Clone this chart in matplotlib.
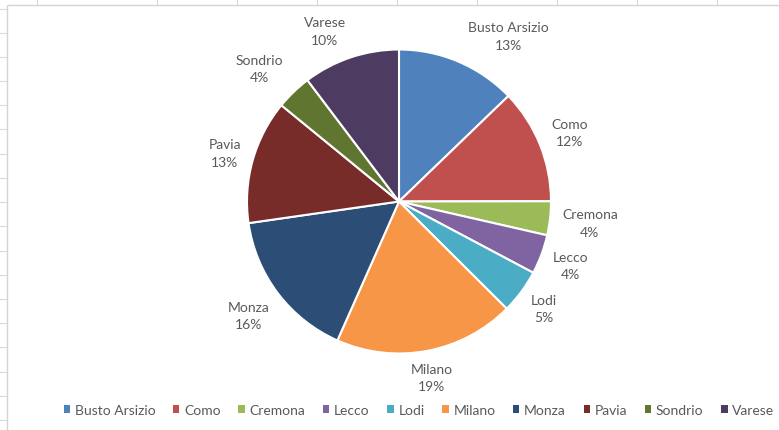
import matplotlib
matplotlib.use("Agg")
import matplotlib.pyplot as plt
from matplotlib.lines import Line2D
from matplotlib.patches import Patch, Rectangle
import numpy as np

# data (shares in %)
cities = ["Busto Arsizio", "Como", "Cremona", "Lecco", "Lodi",
          "Milano", "Monza", "Pavia", "Sondrio", "Varese"]
shares = [12.8, 12.2, 3.6, 4.2, 4.7, 19.2, 16.1, 13.2, 3.8, 10.3]
colors = ["#4F81BD", "#C0504D", "#9BBB59", "#8064A2", "#4BACC6",
          "#F79646", "#2C4D75", "#772C2A", "#5F7530", "#4D3B62"]

# spreadsheet grid around the chart object (pixels)
row_lines = [10, 34, 58, 82, 106, 130, 155, 179, 203, 227, 252, 276, 300, 324, 348, 373, 397, 421]
col_lines = [37, 157, 237, 317, 397, 477, 557, 637, 717]

plt.rcParams["font.family"] = ["Lato", "DejaVu Sans"]
TXT = "#595959"
FS = 10

W, H = 779, 431
fig = plt.figure(figsize=(W / 100, H / 100), dpi=100)


def fx(x):
    return x / W


def fy(y):
    return 1 - y / H


# sheet grid lines and chart border (kept behind the pie axes)
for y in row_lines:
    fig.add_artist(Line2D([0, fx(7)], [fy(y), fy(y)], color="#DADADA", lw=0.8, zorder=-10))
for x in col_lines:
    fig.add_artist(Line2D([fx(x), fx(x)], [1, fy(6)], color="#DADADA", lw=0.8, zorder=-10))
fig.add_artist(Rectangle((fx(7), -0.1), 1.2, fy(6) + 0.1, facecolor="white",
                         edgecolor="#D4D4D4", lw=1.0, zorder=-5))

# pie axes
cx, cy, R = 399, 202.5, 152
ax = fig.add_axes([fx(cx - R), fy(cy + R), 2 * R / W, 2 * R / H])
wedges, _ = ax.pie(shares, colors=colors, startangle=90, counterclock=False,
                   wedgeprops=dict(edgecolor="white", linewidth=1.5))
ax.set_xlim(-1, 1)
ax.set_ylim(-1, 1)
ax.axis("off")

total = sum(shares)
labels = []
for name, v in zip(cities, shares):
    t = ax.text(0, 0, f"{name}\n{v / total * 100:.0f}%", ha="center", va="center",
                multialignment="center", fontsize=FS, color=TXT, linespacing=1.55,
                clip_on=False)
    labels.append(t)

# put each label just outside its wedge (like Excel "outside end")
fig.canvas.draw()
renderer = fig.canvas.get_renderer()
gap = 12
nudge = {0: 39, 8: -12, 9: -17}
for i, (w, t) in enumerate(zip(wedges, labels)):
    ang = np.deg2rad((w.theta1 + w.theta2) / 2)
    c, s = np.cos(ang), np.sin(ang)
    bb = t.get_window_extent(renderer)
    hw, hh = bb.width / 2, bb.height / 2
    edge = min(hw / max(abs(c), 1e-6), hh / max(abs(s), 1e-6))
    d = R + gap + edge
    x = (d * c + nudge.get(i, 0)) / R
    y = d * s / R
    t.set_position((x, y))

# legend along the bottom
handles = [Patch(facecolor=c, edgecolor="none") for c in colors]
fig.legend(handles, cities, loc="center", bbox_to_anchor=(fx(419), fy(411)),
           ncol=10, frameon=False, handlelength=0.45, handleheight=0.45,
           handletextpad=0.35, columnspacing=1.27, fontsize=FS, labelcolor=TXT)

fig.savefig("out.png", dpi=100)
